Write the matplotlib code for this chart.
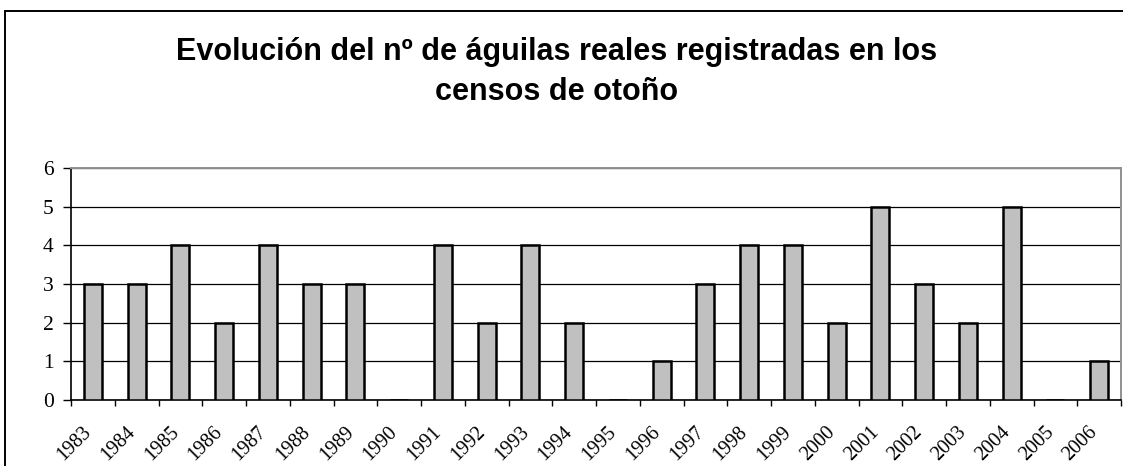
import matplotlib
matplotlib.use("Agg")
import matplotlib.pyplot as plt
import matplotlib.transforms as mtransforms
from matplotlib.patches import Rectangle
import numpy as np

years = ["1983", "1984", "1985", "1986", "1987", "1988", "1989", "1990",
         "1991", "1992", "1993", "1994", "1995", "1996", "1997", "1998",
         "1999", "2000", "2001", "2002", "2003", "2004", "2005", "2006"]
counts = [3, 3, 4, 2, 4, 3, 3, 0, 4, 2, 4, 2, 0, 1, 3, 4, 4, 2, 5, 3, 2, 5, 0, 1]
yticks = [0, 1, 2, 3, 4, 5, 6]
title = "Evolución del nº de águilas reales registradas en los\ncensos de otoño"

W, H = 1123, 466
fig = plt.figure(figsize=(W / 100, H / 100), dpi=100)
fig.patch.set_facecolor("white")

# outer chart frame (only top and left visible in the crop)
fig.patches.append(Rectangle((4.5 / W, -0.1), 1.2, 1 - 11 / H + 0.1,
                             transform=fig.transFigure, fill=False,
                             edgecolor="black", linewidth=1.4, zorder=0))

ax = fig.add_axes([71 / W, 1 - 400 / H, (1121 - 71) / W, (400 - 168) / H])

x = np.arange(len(years))
ax.bar(x, counts, width=0.41, color="#c0c0c0", edgecolor="black",
       linewidth=1.8, zorder=3)

ax.set_xlim(-0.5, len(years) - 0.5)
ax.set_ylim(0, 6)

ax.set_yticks(yticks)
ax.set_yticklabels([str(v) for v in yticks], fontfamily="Liberation Serif",
                   fontsize=15.5)
ax.tick_params(axis="y", direction="out", length=6, width=1, pad=6.5,
               colors="black")

ax.set_xticks(x)
ax.set_xticks(np.arange(-0.5, len(years), 1.0), minor=True)
ax.tick_params(axis="x", which="major", length=0, pad=0)
ax.tick_params(axis="x", which="minor", direction="out", length=4.5, width=1)
labels = ax.set_xticklabels(years, fontfamily="Liberation Serif", fontsize=14.5,
                            rotation=45, ha="right", va="top",
                            rotation_mode="anchor")
offset = mtransforms.ScaledTranslation(-0.11, -0.225, fig.dpi_scale_trans)
for lab in labels:
    lab.set_transform(lab.get_transform() + offset)

ax.yaxis.grid(True, color="black", linewidth=0.9)
ax.set_axisbelow(True)

for s in ("left", "bottom"):
    ax.spines[s].set_color("black")
    ax.spines[s].set_linewidth(1.2)
for s in ("top", "right"):
    ax.spines[s].set_color("#909090")
    ax.spines[s].set_linewidth(1.4)

fig.text(557 / W, 1 - 72 / H, title, ha="center", va="center",
         fontfamily="Liberation Sans", fontweight="bold", fontsize=22,
         linespacing=1.42)

fig.savefig("out.png", dpi=100)
